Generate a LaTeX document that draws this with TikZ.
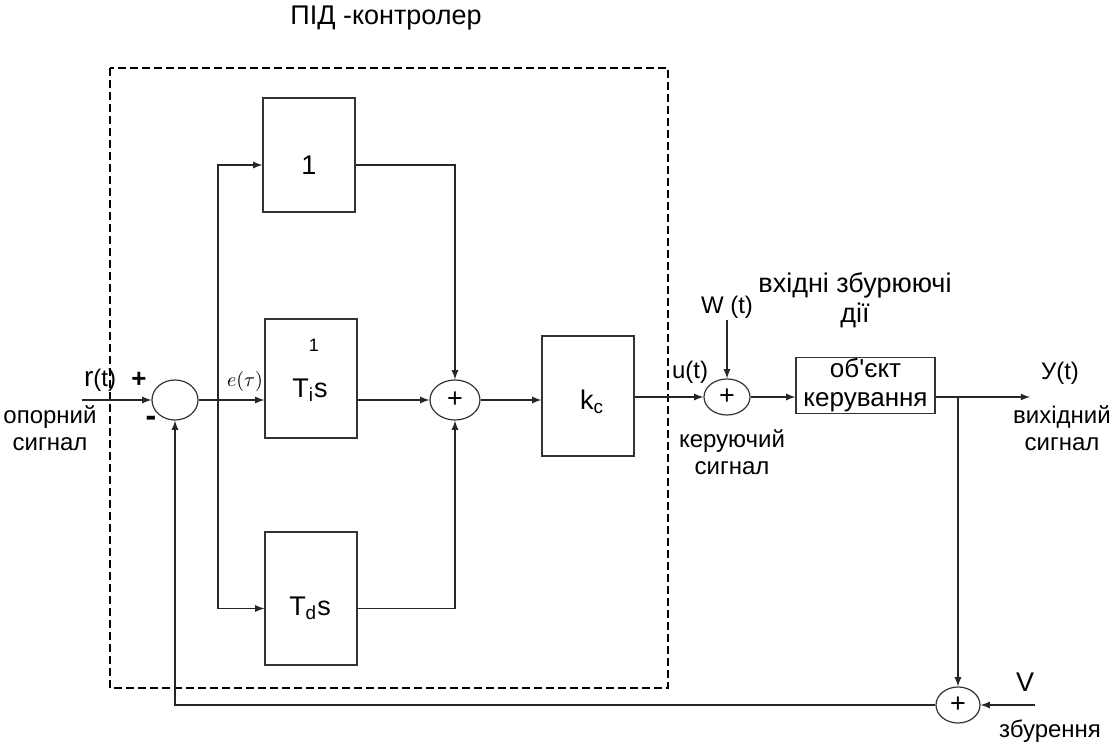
\documentclass[tikz,border=0pt]{standalone}
\usepackage{fontspec}
\setmainfont{Liberation Sans}
\usetikzlibrary{shapes.geometric}
\tikzset{
  blk/.style={draw=black!80, line width=0.6pt, minimum width=46pt, inner sep=0pt},
  summ/.style={draw=black!80, line width=0.6pt, ellipse, inner sep=0pt},
  sig/.style={->,>=latex, line width=0.6pt, black!85},
  txt/.style={font=\fontsize{12}{13.5}\selectfont, align=center, inner sep=0pt},
  big/.style={font=\fontsize{13.5}{14.5}\selectfont}
}
\begin{document}
\begin{tikzpicture}[x=0.5pt,y=-0.5pt]
      \useasboundingbox (0,0) rectangle (1113,747);
      % ПІД-контролер
      \draw[line width=1pt, dash pattern=on 4pt off 2pt] (110,68) rectangle (668,688);
      \node[txt, font=\fontsize{13.5}{14}\selectfont] (title) at (386,18) {ПІД -контролер};
      % blocks
      \node[blk, minimum height=57pt] (b1) at (309,155) {};
      \node[txt, big] at (309,165) {1};
      \node[blk, minimum height=59.5pt] (bi) at (311,378.5) {};
      \node[txt, font=\fontsize{9}{10}\selectfont] at (314,345) {1};
      \node[txt, big] at (310,390) {T\textsubscript{i}s};
      \node[blk, minimum height=66.5pt] (bd) at (311,598.5) {};
      \node[txt, big] at (310,608) {T\textsubscript{d}s};
      \node[blk, minimum height=60pt] (kc) at (588,396) {};
      \node[txt, big] at (592,402) {k\textsubscript{c}};
      \node[blk, minimum width=69.5pt, minimum height=27.5pt, inner ysep=0.5pt, font=\fontsize{13}{14.5}\selectfont, align=center] (obj) at (865.5,385.5) {об\textquotesingle єкт\\керування};
      % summing points
      \node[summ, minimum width=23pt, minimum height=20pt] (s1) at (175,400) {};
      \node[summ, minimum width=25pt, minimum height=20pt, txt, big] (s2) at (455,400) {+};
      \node[summ, minimum width=23pt, minimum height=18pt, txt, big] (s3) at (727,397) {+};
      \node[summ, minimum width=22pt, minimum height=18pt, txt, big] (s4) at (958,705) {+};
      % free ends
      \coordinate (rin) at (82,400);
      \coordinate (br) at (218,400);
      \coordinate (win) at (727,320);
      \coordinate (yout) at (1030,397);
      \coordinate (yb) at (958,397);
      \coordinate (vin) at (1035,705);
      % connectors
      \draw[sig] (rin) -- (s1.west);
      \draw[sig] (s1.east) -- (s1.east -| bi.west);
      \draw[sig] (br) |- ([yshift=-5pt]b1.west);
      \draw[sig] (br) |- ([yshift=-5pt]bd.west);
      \draw[sig] ([yshift=-5pt]b1.east) -| (s2.north);
      \draw[sig] (s1.east -| bi.east) -- (s2.west);
      \draw[sig] ([yshift=-5pt]bd.east) -| (s2.south);
      \draw[sig] (s2.east) -- (s2.east -| kc.west);
      \draw[sig] (s3.west -| kc.east) -- (s3.west);
      \draw[sig] (win) -- (s3.north);
      \draw[sig] (s3.east) -- (s3.east -| obj.west);
      \draw[sig] (s3.east -| obj.east) -- (yout);
      \draw[sig] (yb) -- (s4.north);
      \draw[sig] (vin) -- (s4.east);
      \draw[sig] (s4.west) -| (s1.south);
      % labels
      \node[txt] at (100,380) {{\fontsize{14}{14}\selectfont r}(t)};
      \node[txt, font=\bfseries\fontsize{13}{13}\selectfont] at (139,380) {+};
      \node[txt, font=\bfseries\fontsize{16}{16}\selectfont] at (151,421) {-};
      \node[txt] at (50,428) {опорний\\сигнал};
      \node[txt, font=\fontsize{10}{10}\selectfont] at (245,382) {$e(\tau)$};
      \node[txt] at (690,372) {u(t)};
      \node[txt] at (727,307) {W (t)};
      \node[txt, font=\fontsize{13.5}{15}\selectfont] at (855,300) {вхідні збурюючі\\дії};
      \node[txt] at (732,452) {керуючий\\сигнал};
      \node[txt] at (1060,373) {У(t)};
      \node[txt] at (1062,428) {вихідний\\сигнал};
      \node[txt, font=\fontsize{13.5}{14}\selectfont] at (1025,682) {V};
      \node[txt] at (1050,731) {збурення};

\end{tikzpicture}
\end{document}
